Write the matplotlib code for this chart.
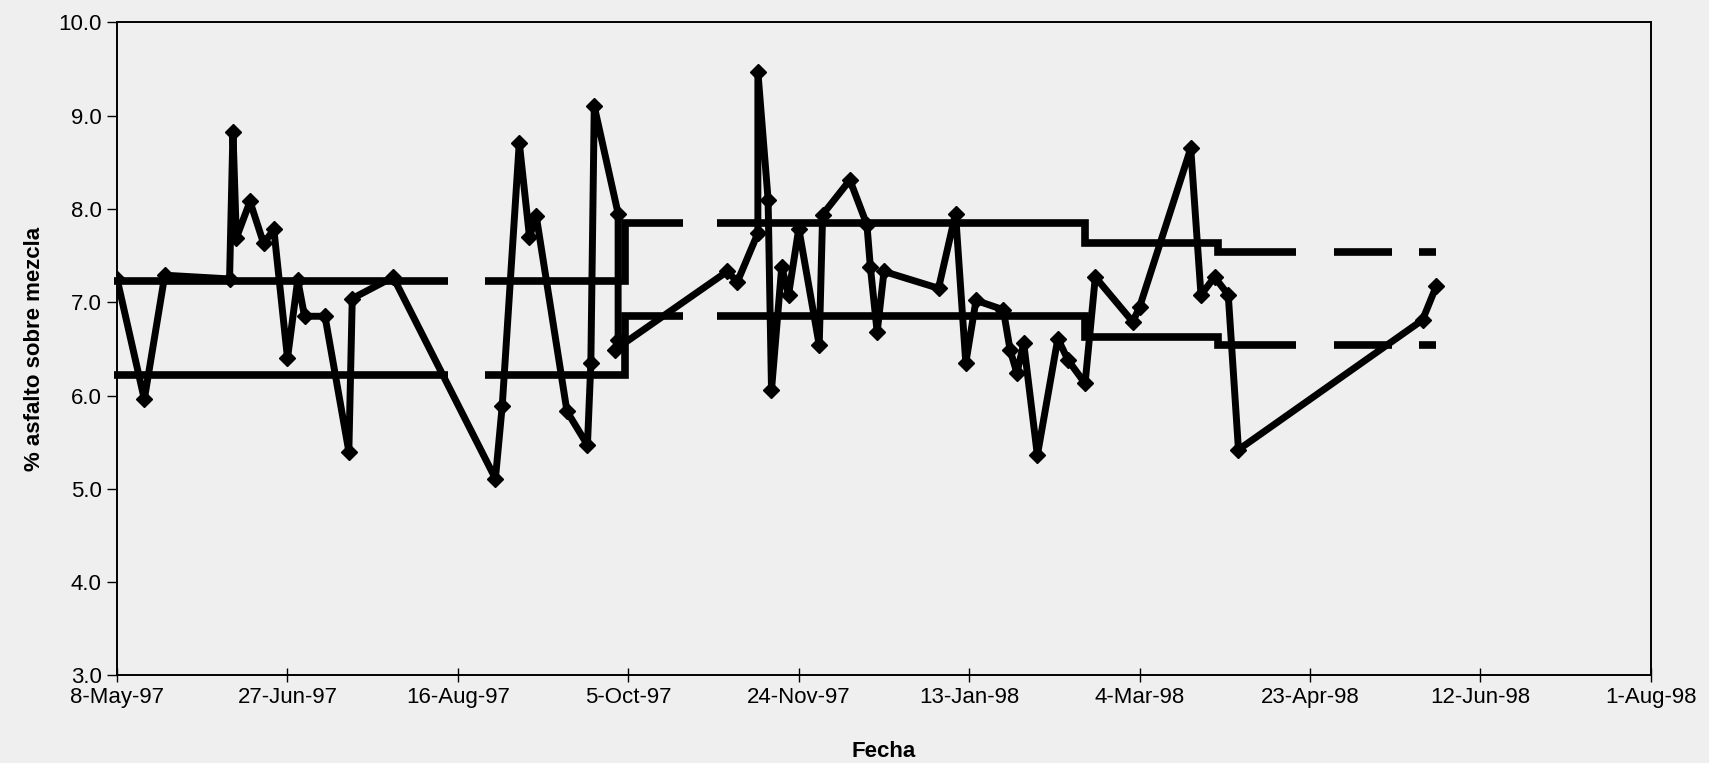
import numpy as np
import pandas as pd
import matplotlib
matplotlib.use("Agg")
import matplotlib.pyplot as plt

# ── data: % asfalto sobre mezcla vs fecha ────────────────────────────────────
FECHAS = [
    "1997-05-08", "1997-05-16", "1997-05-22", "1997-06-10", "1997-06-11",
    "1997-06-12", "1997-06-16", "1997-06-20", "1997-06-23", "1997-06-27",
    "1997-06-30", "1997-07-02", "1997-07-08", "1997-07-15", "1997-07-16",
    "1997-07-28", "1997-08-27", "1997-08-29", "1997-09-03", "1997-09-06",
    "1997-09-08", "1997-09-17", "1997-09-23", "1997-09-24", "1997-09-25",
    "1997-10-02", "1997-10-02", "1997-10-01", "1997-11-03", "1997-11-06",
    "1997-11-12", "1997-11-12", "1997-11-15", "1997-11-16", "1997-11-19",
    "1997-11-21", "1997-11-24", "1997-11-30", "1997-12-01", "1997-12-09",
    "1997-12-14", "1997-12-15", "1997-12-17", "1997-12-19", "1998-01-04",
    "1998-01-09", "1998-01-12", "1998-01-15", "1998-01-23", "1998-01-25",
    "1998-01-27", "1998-01-29", "1998-02-02", "1998-02-08", "1998-02-11",
    "1998-02-16", "1998-02-19", "1998-03-02", "1998-03-04", "1998-03-19",
    "1998-03-22", "1998-03-26", "1998-03-30", "1998-04-02", "1998-05-26",
    "1998-05-30",
]
ASFALTO = [
    7.25, 5.96, 7.29, 7.25, 8.83,
    7.69, 8.08, 7.63, 7.78, 6.40,
    7.24, 6.85, 6.85, 5.40, 7.04,
    7.27, 5.11, 5.89, 8.71, 7.70,
    7.92, 5.83, 5.47, 6.35, 9.10,
    7.95, 6.60, 6.49, 7.33, 7.22,
    7.74, 9.47, 8.10, 6.06, 7.38,
    7.08, 7.79, 6.54, 7.94, 8.31,
    7.83, 7.38, 6.68, 7.33, 7.15,
    7.95, 6.35, 7.02, 6.92, 6.49,
    6.24, 6.56, 5.36, 6.61, 6.38,
    6.13, 7.27, 6.79, 6.95, 8.65,
    7.08, 7.27, 7.08, 5.42, 6.81,
    7.17,
]

# limit lines (step): interval edges and value in each interval (nan = gap)
LIM_EDGES = [
    "1997-05-07", "1997-08-13", "1997-08-24", "1997-10-04", "1997-10-21",
    "1997-10-31", "1998-02-16", "1998-03-27", "1998-04-19", "1998-04-30",
    "1998-05-17", "1998-05-25", "1998-05-30",
]
LIM_SUP = [7.23, np.nan, 7.23, 7.85, np.nan, 7.85, 7.63, 7.54, np.nan, 7.54, np.nan, 7.54]
LIM_INF = [6.22, np.nan, 6.22, 6.85, np.nan, 6.85, 6.63, 6.54, np.nan, 6.54, np.nan, 6.54]

X_START = "1997-05-08"
X_STEP_DAYS = 50
N_XTICKS = 10
Y_TICKS = [3.0, 4.0, 5.0, 6.0, 7.0, 8.0, 9.0, 10.0]


def step_xy(edges, vals):
    xs, ys = [], []
    for i, v in enumerate(vals):
        if np.isnan(v):
            xs.append(edges[i]); ys.append(np.nan)
            continue
        xs += [edges[i], edges[i + 1]]
        ys += [v, v]
    return xs, ys


fechas = pd.to_datetime(FECHAS)
edges = list(pd.to_datetime(LIM_EDGES))
start = pd.Timestamp(X_START)
xticks = [start + pd.Timedelta(days=X_STEP_DAYS * k) for k in range(N_XTICKS)]

plt.rcParams["font.family"] = ["Liberation Sans", "DejaVu Sans"]
BG = "#efefef"

fig = plt.figure(figsize=(17.09, 7.63), dpi=100)
fig.patch.set_facecolor(BG)
ax = fig.add_axes([0.0685, 0.1147, 0.8975, 0.856])
ax.set_facecolor(BG)

for lim in (LIM_SUP, LIM_INF):
    xs, ys = step_xy(edges, lim)
    ax.plot(xs, ys, color="black", lw=5.5, solid_capstyle="butt",
            solid_joinstyle="miter", zorder=2, clip_on=False)

ax.plot(fechas, ASFALTO, color="black", lw=5.0, marker="D", markersize=8,
        solid_joinstyle="round", zorder=3)

ax.set_xlim(xticks[0], xticks[-1])
ax.set_ylim(Y_TICKS[0], Y_TICKS[-1])
ax.set_xticks(xticks)
ax.set_xticklabels([f"{d.day}-{d:%b-%y}" for d in xticks], fontsize=16)
ax.set_yticks(Y_TICKS)
ax.set_yticklabels([f"{v:.1f}" for v in Y_TICKS], fontsize=16)
ax.tick_params(axis="x", direction="inout", length=10, width=1, pad=3)
ax.tick_params(axis="y", direction="out", length=7, width=1, pad=4)
for sp in ax.spines.values():
    sp.set_linewidth(1.4)

ax.set_xlabel("Fecha", fontsize=16, fontweight="bold", labelpad=24)
ax.set_ylabel("% asfalto sobre mezcla", fontsize=16, fontweight="bold", labelpad=10)

fig.savefig("out.png", dpi=100, facecolor=BG)
